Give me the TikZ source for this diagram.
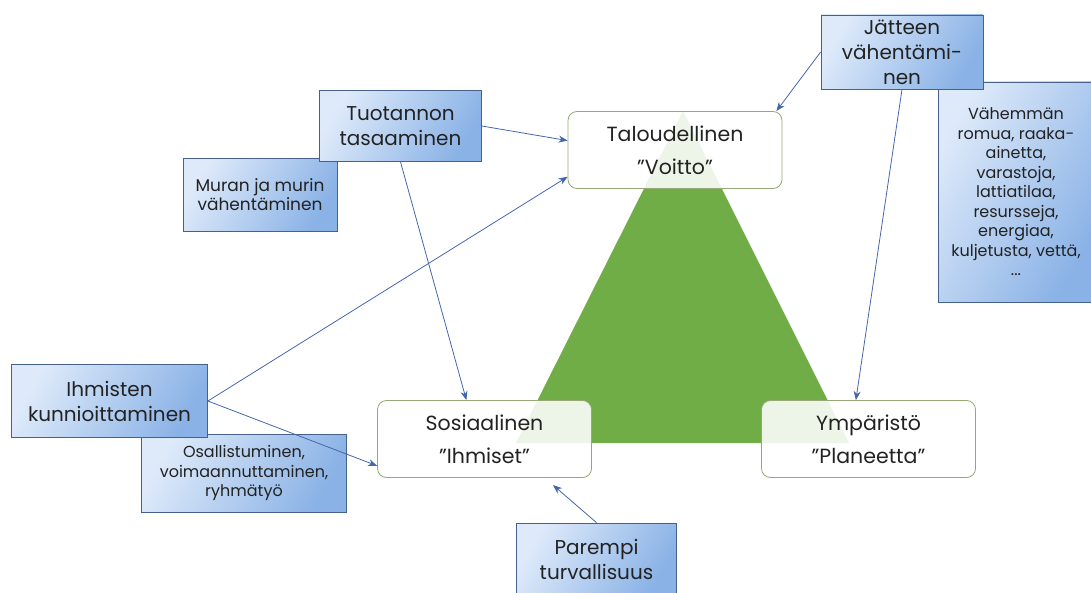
\documentclass[tikz,border=0pt]{standalone}
\usepackage{fontspec}
\setmainfont{Poppins}
\usetikzlibrary{arrows.meta,calc}
\definecolor{tri}{RGB}{112,173,71}
\definecolor{rbord}{RGB}{150,168,118}
\definecolor{boxL}{RGB}{222,234,250}
\definecolor{boxR}{RGB}{138,178,230}
\definecolor{boxB}{RGB}{70,98,138}
\definecolor{arr}{RGB}{70,102,172}
\definecolor{txt}{RGB}{34,34,34}
\tikzset{
  pillar/.style={draw=rbord, line width=0.8pt, rounded corners=9pt, fill=white, fill opacity=0.88, text opacity=1,
    minimum width=214pt, minimum height=77pt, align=center, text=txt,
    font=\fontsize{20.5pt}{33pt}\selectfont},
  bigbox/.style={draw=boxB, line width=0.7pt, left color=boxL, right color=boxR, shading angle=60,
    align=center, text=txt, font=\fontsize{20pt}{25pt}\selectfont, inner sep=0pt},
  smallbox/.style={draw=boxB, line width=0.7pt, left color=boxL, right color=boxR, shading angle=60,
    align=center, text=txt, font=\fontsize{16pt}{19.5pt}\selectfont, inner sep=0pt},
  conn/.style={draw=arr, line width=0.8pt, -{Stealth[length=9pt,width=7pt]}}
}
\begin{document}
\begin{tikzpicture}[x=1pt,y=-1pt]
\useasboundingbox (0,0) rectangle (1091,593);
% triangle
\fill[tri] (683,111) -- (849,443) -- (516,443) -- cycle;
% pillars
\node[pillar] (tal) at (675,150) {Taloudellinen\\"Voitto"};
\node[pillar] (sos) at (484.5,439) {Sosiaalinen\\"Ihmiset"};
\node[pillar] (ymp) at (868.5,439) {Ympäristö\\"Planeetta"};
% small boxes
\node[smallbox, minimum width=154pt, minimum height=73pt, font=\fontsize{17pt}{19pt}\selectfont] (mur) at (260,195) {Muran ja murin\\vähentäminen};
\node[smallbox, minimum width=205pt, minimum height=78pt] (osa) at (244,473) {Osallistuminen,\\voimaannuttaminen,\\ryhmätyö};
\node[smallbox, minimum width=156pt, minimum height=220pt] (vah) at (1016,192) {Vähemmän\\romua, raaka-\\ainetta,\\varastoja,\\lattiatilaa,\\resursseja,\\energiaa,\\kuljetusta, vettä,\\...};
% big boxes
\node[bigbox, minimum width=162pt, minimum height=71pt] (tuo) at (400.5,126) {Tuotannon\\tasaaminen};
\node[bigbox, minimum width=196pt, minimum height=73pt] (ihm) at (109.5,401) {Ihmisten\\kunnioittaminen};
\node[bigbox, minimum width=160pt, minimum height=72pt] (par) at (596.5,559) {Parempi\\turvallisuus};
\node[bigbox, minimum width=162pt, minimum height=74pt] (jat) at (902,52) {Jätteen\\vähentämi-\\nen};
% connectors
\coordinate (parend) at (553,485);
\draw[conn] (jat.west) -- (tal.21.6);
\draw[conn] (jat.south) -- (ymp.108);
\draw[conn] (tuo.east) -- (tal.175);
\draw[conn] (tuo.south) -- (sos.115);
\draw[conn] (ihm.east) -- (tal.194);
\draw[conn] (ihm.east) -- (sos.194);
\draw[conn] (par.north) -- (parend);
\end{tikzpicture}
\end{document}
